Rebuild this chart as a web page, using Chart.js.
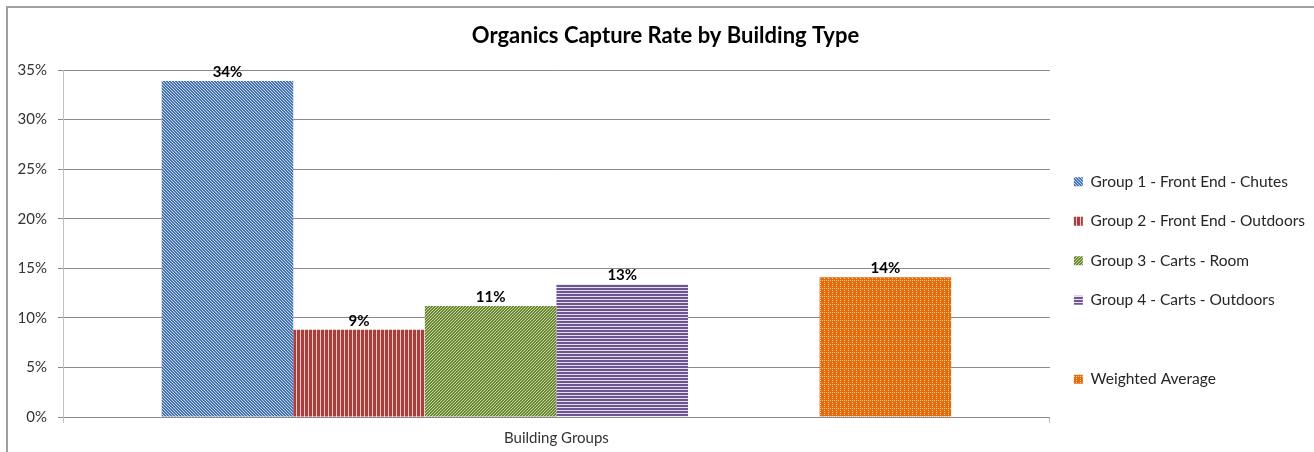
<!DOCTYPE html>
<html>
<head>
<meta charset="utf-8">
<title>Organics Capture Rate by Building Type</title>
<script src="https://cdn.jsdelivr.net/npm/chart.js@4.4.0/dist/chart.umd.min.js"></script>
<style>
  html, body { margin: 0; padding: 0; background: #fff; overflow: hidden; }
  #frame { position: absolute; left: 6px; top: 6px; border-left: 2px solid #a0a0a0; border-top: 2px solid #a0a0a0; }
  canvas { display: block; }
</style>
</head>
<body>
<div id="frame"><canvas id="chart" width="1314" height="545"></canvas></div>
<script>
// chart data
const categories = ['Building Groups'];
const seriesNames = [
  'Group 1 - Front End - Chutes',
  'Group 2 - Front End - Outdoors',
  'Group 3 - Carts - Room',
  'Group 4 - Carts - Outdoors',
  '',                       // empty series, keeps the gap before the average
  'Weighted Average'
];
const group1 = [0.339];
const group2 = [0.088];
const group3 = [0.112];
const group4 = [0.134];
const spacer = [null];
const weighted = [0.141];
const yTicks = [0, 0.05, 0.10, 0.15, 0.20, 0.25, 0.30, 0.35];

const FONT = 'Lato, "Open Sans", sans-serif';

// small tiled fills to mimic the Excel pattern fills
function makePattern(size, bg, fg, isFg) {
  const c = document.createElement('canvas');
  c.width = c.height = size;
  const g = c.getContext('2d');
  g.fillStyle = bg;
  g.fillRect(0, 0, size, size);
  g.fillStyle = fg;
  for (let i = 0; i < size; i++) {
    for (let j = 0; j < size; j++) {
      if (isFg(i, j)) g.fillRect(i, j, 1, 1);
    }
  }
  return g.createPattern(c, 'repeat');
}

const fills = [
  makePattern(6, '#4573b0', '#c4d5ec', (i, j) => (i - j + 6) % 3 === 0),
  makePattern(4, '#a93e3b', '#ecc9c8', (i, j) => i % 4 === 0),
  makePattern(6, '#6a8535', '#c6d99e', (i, j) => (i + j) % 3 === 0),
  makePattern(6, '#705594', '#e6dfee', (i, j) => j % 3 === 0),
  'rgba(0,0,0,0)',
  makePattern(8, '#e46c0a', '#f8c79c', (i, j) => (i % 4 === 0 && j % 2 === 0) || (j % 8 === 0 && i % 2 === 0))
];

const seriesValues = [group1, group2, group3, group4, spacer, weighted];

const valueLabels = {
  id: 'valueLabels',
  afterDatasetsDraw(chart) {
    const ctx = chart.ctx;
    ctx.save();
    ctx.font = 'bold 15px ' + FONT;
    ctx.fillStyle = '#000';
    ctx.textAlign = 'center';
    ctx.textBaseline = 'middle';
    chart.data.datasets.forEach((ds, i) => {
      chart.getDatasetMeta(i).data.forEach((bar, j) => {
        const v = ds.data[j];
        if (v == null) return;
        ctx.fillText(Math.round(v * 100) + '%', bar.x, bar.y - 9);
      });
    });
    ctx.restore();
  }
};

new Chart(document.getElementById('chart'), {
  type: 'bar',
  data: {
    labels: categories,
    datasets: seriesValues.map((vals, i) => ({
      label: seriesNames[i],
      data: vals,
      backgroundColor: fills[i],
      borderWidth: 0,
      borderColor: 'rgba(0,0,0,0)',
      categoryPercentage: 0.8,
      barPercentage: 1
    }))
  },
  options: {
    responsive: false,
    animation: false,
    devicePixelRatio: 1,
    layout: { padding: { left: 8, right: 7, top: 0, bottom: 0 } },
    plugins: {
      title: {
        display: true,
        text: 'Organics Capture Rate by Building Type',
        color: '#000',
        font: { family: FONT, size: 22, weight: 'bold' },
        padding: { top: 15, bottom: 20.6 }
      },
      legend: {
        position: 'right',
        labels: {
          color: '#262626',
          font: { family: FONT, size: 15.5 },
          boxWidth: 9,
          boxHeight: 9,
          padding: 24
        }
      },
      tooltip: { enabled: false }
    },
    scales: {
      x: {
        grid: { display: true, drawOnChartArea: false, offset: true, tickLength: 6, color: '#c0c0c0' },
        border: { color: '#898989' },
        ticks: { color: '#333', font: { family: FONT, size: 15 }, padding: 6 },
        afterFit: s => { s.height = 136; }
      },
      y: {
        min: 0,
        max: 0.35,
        afterBuildTicks: s => { s.ticks = yTicks.map(v => ({ value: v })); },
        grid: { color: '#898989', tickLength: 5 },
        border: { color: '#c0c0c0' },
        ticks: {
          color: '#333',
          font: { family: FONT, size: 15 },
          padding: 11,
          callback: v => Math.round(v * 100) + '%'
        },
        afterFit: s => { s.width = 47; }
      }
    }
  },
  plugins: [valueLabels]
});
</script>
</body>
</html>
